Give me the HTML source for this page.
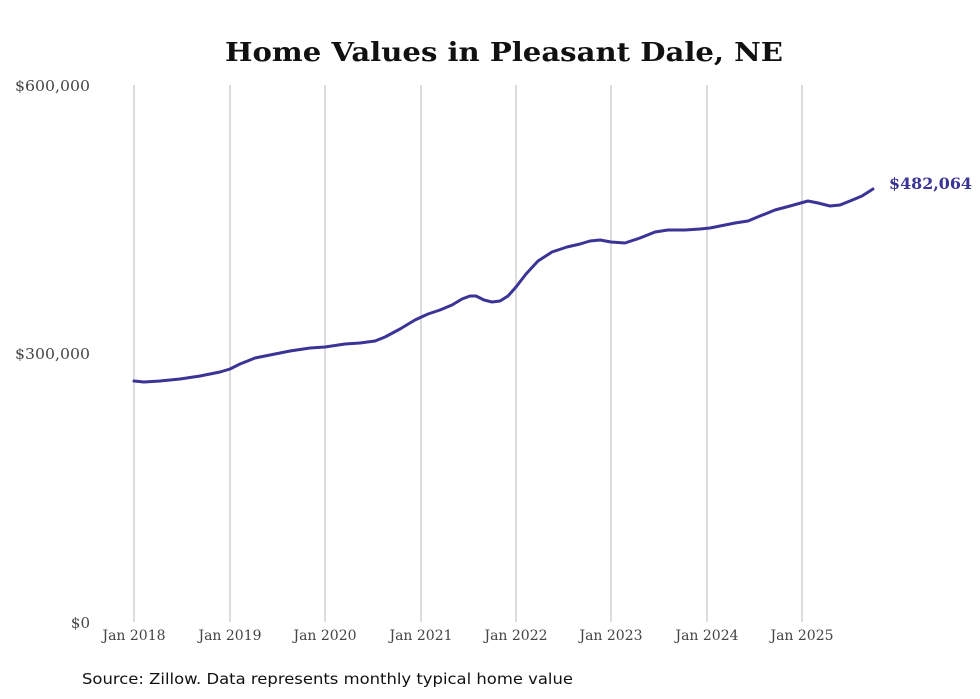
<!DOCTYPE html>
<html><head><meta charset="utf-8"><style>
body{margin:0;background:#fff;width:980px;height:699px;overflow:hidden}
svg{display:block}
</style></head><body>
<svg width="980" height="699" xmlns="http://www.w3.org/2000/svg" font-family="DejaVu Serif, serif">
<text x="225" y="61" font-size="26" font-weight="bold" fill="#111" textLength="558" lengthAdjust="spacingAndGlyphs">Home Values in Pleasant Dale, NE</text>
<g stroke="#c4c4c4" stroke-width="1.2">
<line x1="134" y1="85" x2="134" y2="622"/><line x1="230" y1="85" x2="230" y2="622"/>
<line x1="325" y1="85" x2="325" y2="622"/><line x1="421" y1="85" x2="421" y2="622"/>
<line x1="516" y1="85" x2="516" y2="622"/><line x1="611" y1="85" x2="611" y2="622"/>
<line x1="707" y1="85" x2="707" y2="622"/><line x1="802" y1="85" x2="802" y2="622"/>
</g>
<g font-size="15" fill="#444" text-anchor="end">
<text x="90" y="91" textLength="75" lengthAdjust="spacingAndGlyphs">$600,000</text><text x="90" y="359" textLength="75" lengthAdjust="spacingAndGlyphs">$300,000</text><text x="90" y="628">$0</text>
</g>
<g font-size="14" fill="#444" text-anchor="middle">
<text x="134" y="640">Jan 2018</text><text x="230" y="640">Jan 2019</text><text x="325" y="640">Jan 2020</text><text x="421" y="640">Jan 2021</text><text x="516" y="640">Jan 2022</text><text x="611" y="640">Jan 2023</text><text x="707" y="640">Jan 2024</text><text x="802" y="640">Jan 2025</text>
</g>
<polyline fill="none" stroke="#3a3496" stroke-width="3" stroke-linejoin="round" stroke-linecap="round" points="134,381 144,382 160,381 180,379 200,376 220,372 230,369 240,364 255,358 270,355 290,351 310,348 325,347 345,344 360,343 375,341 385,337 400,329 415,320 428,314 440,310 452,305 462,299 470,296 476,296 484,300 492,302 500,301 508,296 516,287 526,274 538,261 552,252 567,247 580,244 590,241 600,240 611,242 625,243 640,238 655,232 668,230 685,230 700,229 710,228 720,226 735,223 748,221 760,216 775,210 790,206 808,201 818,203 830,206 840,205 850,201 862,196 873,189"/>
<text x="889" y="189" font-size="16" font-weight="bold" fill="#3a3496" textLength="83" lengthAdjust="spacingAndGlyphs">$482,064</text>
<text x="82" y="684" font-size="15" fill="#111" font-family="DejaVu Sans, sans-serif" textLength="491" lengthAdjust="spacingAndGlyphs">Source: Zillow. Data represents monthly typical home value</text>
</svg>
</body></html>
